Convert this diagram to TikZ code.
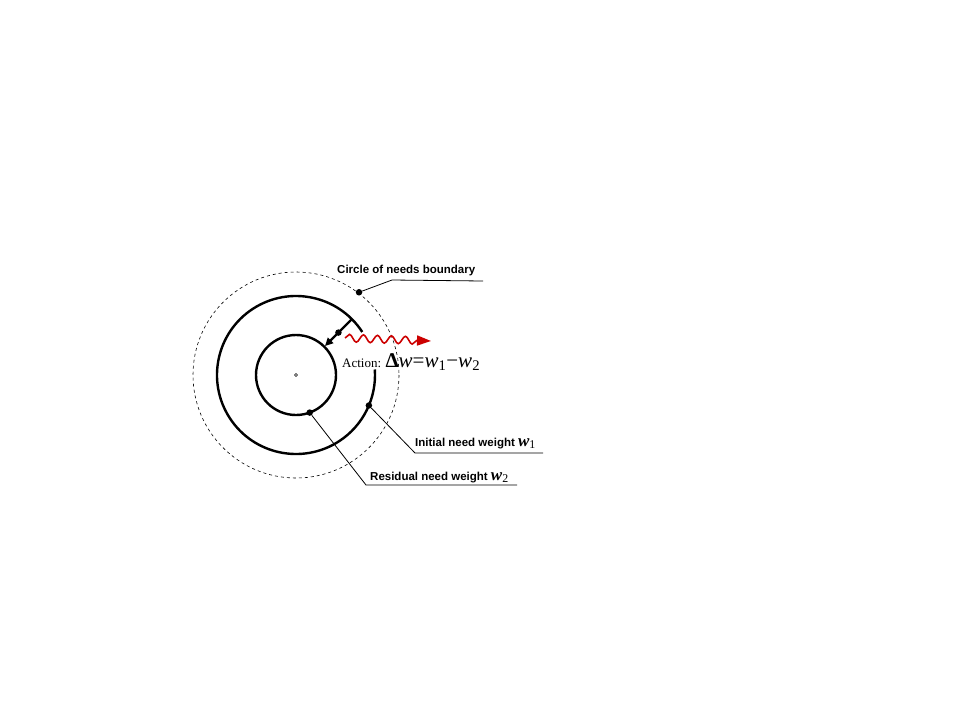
\documentclass[tikz,border=0pt]{standalone}
\usepackage{fontspec}
\setmainfont{Liberation Serif}
\setsansfont{Liberation Sans}
\usetikzlibrary{arrows,arrows.meta,decorations.pathmorphing}
\newcommand{\wsub}[1]{{\rmfamily\mdseries\fontsize{17}{20}\selectfont\textbf{\textit{w}}\textsubscript{#1}}}

\begin{document}
\begin{tikzpicture}[x=1pt,y=-1pt,>=triangle 45,
  ring/.style={line width=2.4pt},
  lead/.style={line width=0.8pt},
  dot/.style={circle,fill,inner sep=0pt,minimum size=6.5pt},
  lbl/.style={font=\sffamily\bfseries\fontsize{11.5}{14}\selectfont,anchor=base west,inner sep=0pt}]
\useasboundingbox (0,0) rectangle (960,720);
\coordinate (o) at (296,375);
\draw[dashed,line width=0.6pt] (o) circle (103);
\draw[ring] ([shift={(-33:79)}]o) arc[start angle=-33,end angle=-364,radius=79];
\draw[ring] (o) circle (40);
\draw[line width=0.5pt] (o) circle (1.5);
% action arrow
\coordinate (a1) at ([shift={(-45:79)}]o);
\coordinate (a2) at ([shift={(-45:41)}]o);
\draw[line width=2.2pt,-{Triangle[length=8pt,width=7.5pt]}] (a1) -- (a2);
\node[dot] (act) at ([shift={(-45:60)}]o) {};
\coordinate (wv) at (345,338);
\coordinate (wt) at (431,341);
\draw[red!80!black,line width=1.6pt,-{Triangle[length=14pt,width=10pt]},
  decorate,decoration={snake,amplitude=3.8pt,segment length=14pt,post length=12pt}] (wv) -- (wt);
\node[font=\fontsize{13}{15}\selectfont,anchor=base west,inner sep=0pt] (actlbl) at (342,367)
  {Action: {\fontsize{21}{22}\selectfont\textbf{Δ}\textit{w}=\textit{w}\textsubscript{1}−\textit{w}\textsubscript{2}}};
% boundary label
\node[dot] (bd) at ([shift={(-52.7:104)}]o) {};
\coordinate (bk) at (392,280);
\coordinate (be) at (483,281);
\node[lbl] (bdlbl) at (337,273) {Circle of needs boundary};
\draw[lead] (bd) -- (bk) -- (be);
% initial weight
\node[dot] (iw) at ([shift={(22.7:79)}]o) {};
\coordinate (ik) at (415,453);
\coordinate (ie) at (543,453);
\node[lbl] (iwlbl) at (415,446) {Initial need weight \wsub{1}};
\draw[lead] (iw) -- (ik) -- (ie);
% residual weight
\node[dot] (rw) at ([shift={(70:40)}]o) {};
\coordinate (rk) at (366,485);
\coordinate (re) at (517,485);
\node[lbl] (rwlbl) at (370,480) {Residual need weight \wsub{2}};
\draw[lead] (rw) -- (rk) -- (re);
\end{tikzpicture}
\end{document}
